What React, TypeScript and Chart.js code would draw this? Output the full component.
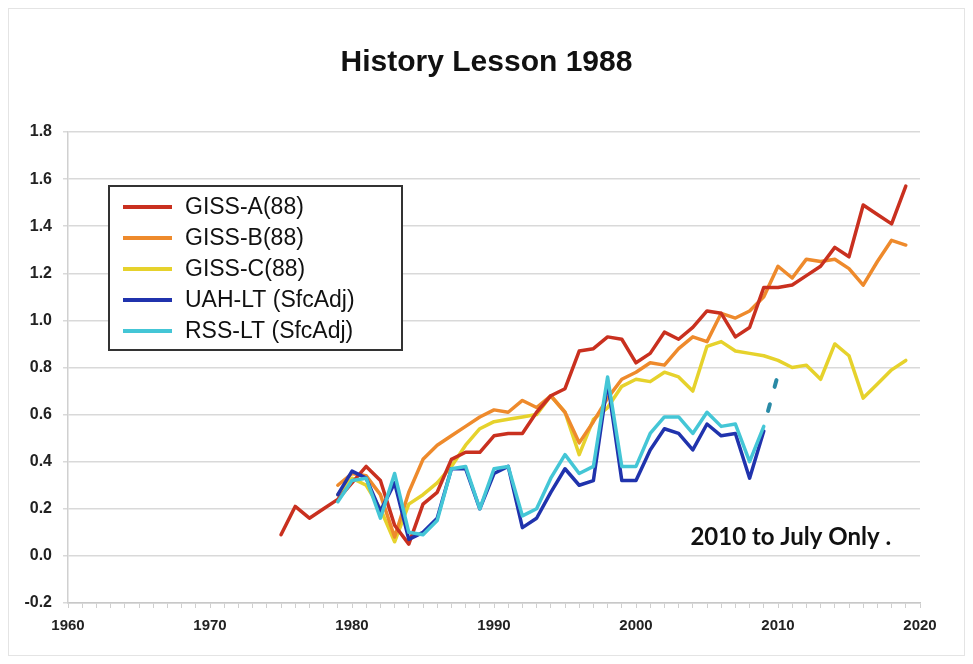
import React, { useEffect, useRef } from 'react';
import { Chart, registerables } from 'chart.js';

Chart.register(...registerables);

const titleText = 'History Lesson 1988';
const noteText = '2010 to July Only .';

const yearsA = [1975, 1976, 1977, 1978, 1979, 1980, 1981, 1982, 1983, 1984, 1985, 1986, 1987, 1988, 1989, 1990, 1991, 1992, 1993, 1994, 1995, 1996, 1997, 1998, 1999, 2000, 2001, 2002, 2003, 2004, 2005, 2006, 2007, 2008, 2009, 2010, 2011, 2012, 2013, 2014, 2015, 2016, 2017, 2018, 2019];
const gissA = [0.09, 0.21, 0.16, 0.20, 0.24, 0.31, 0.38, 0.32, 0.13, 0.05, 0.22, 0.27, 0.41, 0.44, 0.44, 0.51, 0.52, 0.52, 0.61, 0.68, 0.71, 0.87, 0.88, 0.93, 0.92, 0.82, 0.86, 0.95, 0.92, 0.97, 1.04, 1.03, 0.93, 0.97, 1.14, 1.14, 1.15, 1.19, 1.23, 1.31, 1.27, 1.49, 1.45, 1.41, 1.57];

const yearsBC = [1979, 1980, 1981, 1982, 1983, 1984, 1985, 1986, 1987, 1988, 1989, 1990, 1991, 1992, 1993, 1994, 1995, 1996, 1997, 1998, 1999, 2000, 2001, 2002, 2003, 2004, 2005, 2006, 2007, 2008, 2009, 2010, 2011, 2012, 2013, 2014, 2015, 2016, 2017, 2018, 2019];
const gissB = [0.30, 0.35, 0.34, 0.26, 0.08, 0.27, 0.41, 0.47, 0.51, 0.55, 0.59, 0.62, 0.61, 0.66, 0.63, 0.68, 0.61, 0.48, 0.57, 0.67, 0.75, 0.78, 0.82, 0.81, 0.88, 0.93, 0.91, 1.03, 1.01, 1.04, 1.10, 1.23, 1.18, 1.26, 1.25, 1.26, 1.22, 1.15, 1.25, 1.34, 1.32];
const gissC = [0.26, 0.33, 0.30, 0.20, 0.06, 0.22, 0.26, 0.31, 0.38, 0.47, 0.54, 0.57, 0.58, 0.59, 0.60, 0.68, 0.61, 0.43, 0.58, 0.63, 0.72, 0.75, 0.74, 0.78, 0.76, 0.70, 0.89, 0.91, 0.87, 0.86, 0.85, 0.83, 0.80, 0.81, 0.75, 0.90, 0.85, 0.67, 0.73, 0.79, 0.83];

const yearsSat = [1979, 1980, 1981, 1982, 1983, 1984, 1985, 1986, 1987, 1988, 1989, 1990, 1991, 1992, 1993, 1994, 1995, 1996, 1997, 1998, 1999, 2000, 2001, 2002, 2003, 2004, 2005, 2006, 2007, 2008, 2009];
const uahLT = [0.26, 0.36, 0.33, 0.19, 0.31, 0.07, 0.10, 0.16, 0.37, 0.37, 0.20, 0.35, 0.38, 0.12, 0.16, 0.27, 0.37, 0.30, 0.32, 0.74, 0.32, 0.32, 0.45, 0.54, 0.52, 0.45, 0.56, 0.51, 0.52, 0.33, 0.53];
const rssLT = [0.23, 0.32, 0.33, 0.16, 0.35, 0.10, 0.09, 0.15, 0.37, 0.38, 0.20, 0.37, 0.38, 0.17, 0.20, 0.33, 0.43, 0.35, 0.38, 0.76, 0.38, 0.38, 0.52, 0.59, 0.59, 0.52, 0.61, 0.55, 0.56, 0.40, 0.55];

const partialYears = [2009, 2010];
const rssPartial = [0.55, 0.77];

const xTickLabels = [1960, 1970, 1980, 1990, 2000, 2010, 2020];
const yTickLabels = [-0.2, 0.0, 0.2, 0.4, 0.6, 0.8, 1.0, 1.2, 1.4, 1.6, 1.8];

const seriesNames = ['GISS-A(88)', 'GISS-B(88)', 'GISS-C(88)', 'UAH-LT (SfcAdj)', 'RSS-LT (SfcAdj)'];
const seriesColors = ['#c9301f', '#ee8a2c', '#e6d22c', '#2033ad', '#44c6d6'];

const FONT = '"Liberation Sans", Arial, Helvetica, sans-serif';

function pts(xs: number[], ys: number[]) {
  return xs.map((x, i) => ({ x, y: ys[i] }));
}

export default function App() {
  const ref = useRef<HTMLCanvasElement>(null);

  useEffect(() => {
    if (!ref.current) return;

    const decor = {
      id: 'decor',
      afterDraw(chart: any) {
        const ctx = chart.ctx;
        const ca = chart.chartArea;
        ctx.save();
        // title
        ctx.fillStyle = '#111';
        ctx.font = `bold 30px ${FONT}`;
        ctx.textAlign = 'center';
        ctx.textBaseline = 'middle';
        ctx.fillText(titleText, chart.width / 2, 54);

        // note
        const xs = chart.scales.x;
        const ys = chart.scales.y;
        ctx.font = `bold 24px Lato, "Open Sans", sans-serif`;
        ctx.fillStyle = '#111';
        ctx.fillText(noteText, xs.getPixelForValue(2010.9), ys.getPixelForValue(0.08));

        // legend box
        const bx = ca.left + 41;
        const by = ca.top + 54;
        const bw = 293;
        const bh = 164;
        ctx.fillStyle = '#ffffff';
        ctx.fillRect(bx, by, bw, bh);
        ctx.strokeStyle = '#333';
        ctx.lineWidth = 2;
        ctx.strokeRect(bx, by, bw, bh);
        ctx.font = `23px ${FONT}`;
        ctx.textAlign = 'left';
        ctx.textBaseline = 'middle';
        seriesNames.forEach((name, i) => {
          const yy = by + 21 + i * 31;
          ctx.strokeStyle = seriesColors[i];
          ctx.lineWidth = 4;
          ctx.beginPath();
          ctx.moveTo(bx + 14, yy);
          ctx.lineTo(bx + 63, yy);
          ctx.stroke();
          ctx.fillStyle = '#111';
          ctx.fillText(name, bx + 76, yy + 1);
        });
        ctx.restore();
      },
    };

    const lineDs = (label: string, data: any[], color: string, order: number) => ({
      label,
      data,
      borderColor: color,
      backgroundColor: color,
      borderWidth: 3.5,
      pointRadius: 0,
      tension: 0,
      fill: false,
      order,
      borderJoinStyle: 'round' as const,
      borderCapStyle: 'round' as const,
    });

    const chart = new Chart(ref.current, {
      type: 'line',
      data: {
        datasets: [
          lineDs(seriesNames[0], pts(yearsA, gissA), seriesColors[0], 3),
          lineDs(seriesNames[1], pts(yearsBC, gissB), seriesColors[1], 4),
          lineDs(seriesNames[2], pts(yearsBC, gissC), seriesColors[2], 5),
          lineDs(seriesNames[3], pts(yearsSat, uahLT), seriesColors[3], 2),
          lineDs(seriesNames[4], pts(yearsSat, rssLT), seriesColors[4], 1),
          {
            label: 'partial',
            data: pts(partialYears, rssPartial),
            borderColor: '#2a8aa6',
            borderWidth: 4,
            borderDash: [7, 18],
            borderDashOffset: 9,
            borderCapStyle: 'round',
            pointRadius: 0,
            tension: 0,
            fill: false,
            order: 0,
          },
        ],
      },
      options: {
        animation: false,
        responsive: false,
        parsing: true,
        layout: { padding: { left: 0, right: 44, top: 123, bottom: 0 } },
        plugins: {
          legend: { display: false },
          title: { display: false },
          tooltip: { enabled: false },
        },
        scales: {
          x: {
            type: 'linear',
            min: 1960,
            max: 2020,
            afterFit: (s: any) => { s.height = 52; },
            afterBuildTicks: (s: any) => {
              const t = [];
              for (let v = 1960; v <= 2020; v++) t.push({ value: v });
              s.ticks = t;
            },
            ticks: {
              autoSkip: false,
              maxRotation: 0,
              padding: 9,
              color: '#222',
              font: { family: FONT, size: 15, weight: 'bold' },
              callback: (v: any) => (xTickLabels.includes(Number(v)) ? String(v) : ''),
            },
            grid: {
              drawOnChartArea: false,
              drawTicks: true,
              tickLength: 5,
              color: '#cfcfcf',
              lineWidth: 1,
            },
            border: { display: true, color: '#c8c8c8', width: 1.5 },
          },
          y: {
            type: 'linear',
            min: -0.2,
            max: 1.8,
            afterFit: (s: any) => { s.width = 59; },
            afterBuildTicks: (s: any) => {
              s.ticks = yTickLabels.map((v) => ({ value: v }));
            },
            ticks: {
              padding: 11,
              color: '#222',
              font: { family: FONT, size: 16, weight: 'bold' },
              callback: (v: any) => Number(v).toFixed(1),
            },
            grid: {
              color: '#d9d9d9',
              lineWidth: 1.5,
              tickLength: 5,
            },
            border: { display: true, color: '#d0d0d0', width: 1.5 },
          },
        },
      },
      plugins: [decor],
    } as any);

    return () => chart.destroy();
  }, []);

  return (
    <div style={{ width: 955, height: 646, border: '1px solid #e4e4e4', background: '#fff' }}>
      <canvas ref={ref} width={955} height={646} style={{ display: 'block' }} />
    </div>
  );
}
